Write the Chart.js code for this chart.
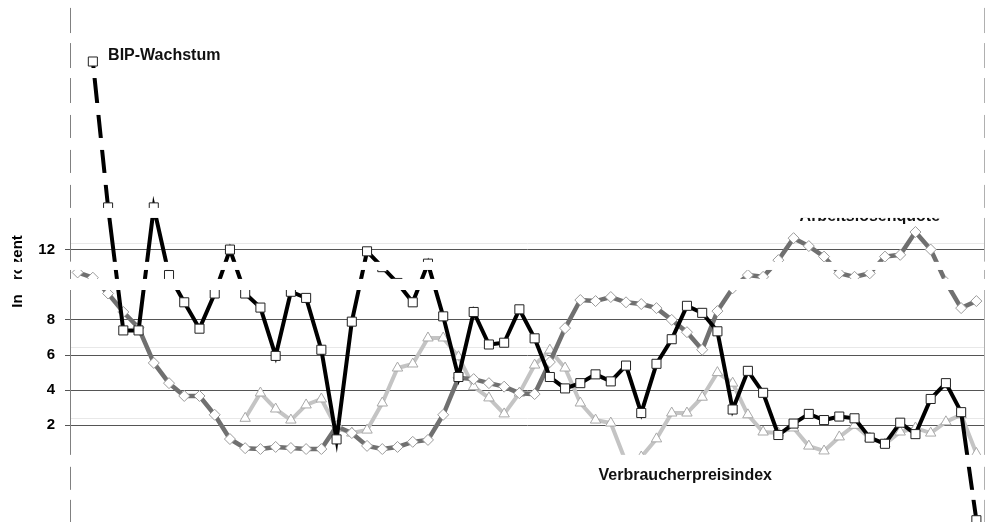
<!DOCTYPE html>
<html><head><meta charset="utf-8">
<script src="https://cdn.jsdelivr.net/npm/chart.js@4/dist/chart.umd.min.js"></script>
<style>html,body{margin:0;padding:0;background:#fff;overflow:hidden}canvas{display:block}</style>
</head><body>
<canvas id="c" width="985" height="522" style="width:985px;height:522px"></canvas>
<script>
const years = ['1950','1951','1952','1953','1954','1955','1956','1957','1958','1959',
  '1960','1961','1962','1963','1964','1965','1966','1967','1968','1969',
  '1970','1971','1972','1973','1974','1975','1976','1977','1978','1979',
  '1980','1981','1982','1983','1984','1985','1986','1987','1988','1989',
  '1990','1991','1992','1993','1994','1995','1996','1997','1998','1999',
  '2000','2001','2002','2003','2004','2005','2006','2007','2008','2009'];

const bipWachstum = [null,22.7,14.4,7.4,7.4,14.4,10.55,9.0,7.5,9.5,
  12.0,9.5,8.7,5.95,9.6,9.25,6.3,1.2,7.9,11.9,
  11.0,10.1,9.0,11.2,8.2,4.75,8.45,6.6,6.7,8.6,
  6.95,4.75,4.1,4.4,4.9,4.5,5.4,2.7,5.5,6.9,
  8.8,8.4,7.35,2.9,5.1,3.85,1.45,2.1,2.65,2.3,
  2.5,2.4,1.3,0.95,2.15,1.5,3.5,4.4,2.75,-3.4];

const arbeitslosenquote = [10.7,10.4,9.5,8.45,7.55,5.55,4.4,3.67,3.67,2.6,
  1.22,0.7,0.65,0.77,0.71,0.65,0.65,1.95,1.56,0.83,
  0.65,0.77,1.06,1.17,2.6,4.7,4.63,4.4,4.2,3.83,
  3.78,5.6,7.53,9.13,9.07,9.3,9.0,8.9,8.67,8.0,
  7.3,6.3,8.5,9.8,10.55,10.45,11.4,12.65,12.2,11.6,
  10.65,10.45,10.65,11.6,11.7,13.0,12.0,10.15,8.67,9.07];

const verbraucherpreisindex = [null,null,null,null,null,null,null,null,null,null,
  null,2.4,3.84,2.93,2.3,3.16,3.5,1.85,1.56,1.73,
  3.27,5.26,5.49,6.97,6.97,5.9,4.2,3.56,2.65,3.83,
  5.43,6.28,5.26,3.27,2.3,2.13,-0.1,0.2,1.23,2.7,
  2.7,3.6,5.0,4.4,2.6,1.62,1.56,1.85,0.82,0.54,
  1.34,2.0,1.28,0.94,1.62,1.85,1.56,2.2,2.6,0.4];

const tickLabels = [2,4,6,8,12];
const faintLines = [2.4,6.45,12.35];
const erasedBands = [[26.4,25.75],[24.32,23.75],[22.33,21.76],[20.34,19.66],[18.35,17.67],
  [16.36,15.68],[14.37,13.8],[11.3,10.84],[10.33,9.7],[0.32,-0.36],[-1.67,-2.24]];

const FONT = "'Liberation Sans', Arial, sans-serif";

const labelsPlugin = {
  id: 'seriesLabels',
  afterDatasetsDraw(chart) {
    const ctx = chart.ctx, xs = chart.scales.x, ys = chart.scales.y;
    const items = [
      {text:'BIP-Wachstum', year:'1952', value:23.05, dx:0, base:'middle'},
      {text:'Arbeitslosenquote', year:'1997', value:13.6, dx:6, base:'alphabetic'},
      {text:'Verbraucherpreisindex', year:'1984', value:-0.88, dx:3, base:'middle'}
    ];
    ctx.save();
    ctx.fillStyle = '#111';
    ctx.font = "bold 16px " + FONT;
    ctx.textAlign = 'left';
    items.forEach(it => {
      ctx.textBaseline = it.base;
      ctx.fillText(it.text, xs.getPixelForValue(years.indexOf(it.year)) + it.dx, ys.getPixelForValue(it.value));
    });
    ctx.restore();
  },
  afterDraw(chart) {
    const ctx = chart.ctx, ys = chart.scales.y;
    ctx.save();
    ctx.fillStyle = '#ffffff';
    erasedBands.forEach(([a,b]) => {
      const y1 = ys.getPixelForValue(a), y2 = ys.getPixelForValue(b);
      ctx.fillRect(0, y1, chart.width, y2 - y1);
    });
    ctx.restore();
  }
};

new Chart(document.getElementById('c'), {
  type: 'line',
  data: {
    labels: years,
    datasets: [
      {label:'BIP-Wachstum', data: bipWachstum, borderColor:'#000', borderWidth:4,
       pointStyle:'rect', pointRadius:6.4, pointBorderWidth:1, pointBorderColor:'#222',
       pointBackgroundColor:'#fff', tension:0, clip:false},
      {label:'Arbeitslosenquote', data: arbeitslosenquote, borderColor:'#707070', borderWidth:4.5,
       pointStyle:'rectRot', pointRadius:5.5, pointBorderWidth:1, pointBorderColor:'#9a9a9a',
       pointBackgroundColor:'#fff', tension:0},
      {label:'Verbraucherpreisindex', data: verbraucherpreisindex, borderColor:'#c4c4c4', borderWidth:4,
       pointStyle:'triangle', pointRadius:6, pointBorderWidth:1, pointBorderColor:'#a8a8a8',
       pointBackgroundColor:'#fff', tension:0}
    ]
  },
  options: {
    responsive:false, animation:false, devicePixelRatio:1,
    layout:{padding:0, autoPadding:false},
    plugins:{legend:{display:false}, tooltip:{enabled:false}},
    scales:{
      x:{type:'category', offset:true, display:false},
      y:{
        position:'left', min:-3.5, max:26.2,
        afterFit: s => { s.width = 70; s.paddingTop = 0; s.paddingBottom = 0; },
        afterBuildTicks: s => { s.ticks = tickLabels.concat(faintLines).sort((a,b)=>a-b).map(v => ({value:v})); },
        ticks:{autoSkip:false, padding:10, color:'#000',
          font:{family:FONT, size:15, weight:'bold'},
          callback: v => tickLabels.includes(v) ? String(v) : ''},
        grid:{tickLength:5,
          color: c => (c.tick && tickLabels.includes(c.tick.value)) ? '#555' : '#e8e8e8',
          tickColor: c => (c.tick && tickLabels.includes(c.tick.value)) ? '#555' : 'rgba(0,0,0,0)'},
        border:{color:'#808080', width:1},
        title:{display:true, text:'In Prozent     ', color:'#000',
          font:{family:FONT, size:15, weight:'bold'}, padding:{top:9, bottom:0}}
      },
      yR:{
        position:'right', min:-3.5, max:26.2,
        afterFit: s => { s.width = 1; s.paddingTop = 0; s.paddingBottom = 0; },
        grid:{display:false}, ticks:{display:false},
        border:{color:'#b0b0b0', width:1}
      }
    }
  },
  plugins:[labelsPlugin]
});
</script>
</body></html>
